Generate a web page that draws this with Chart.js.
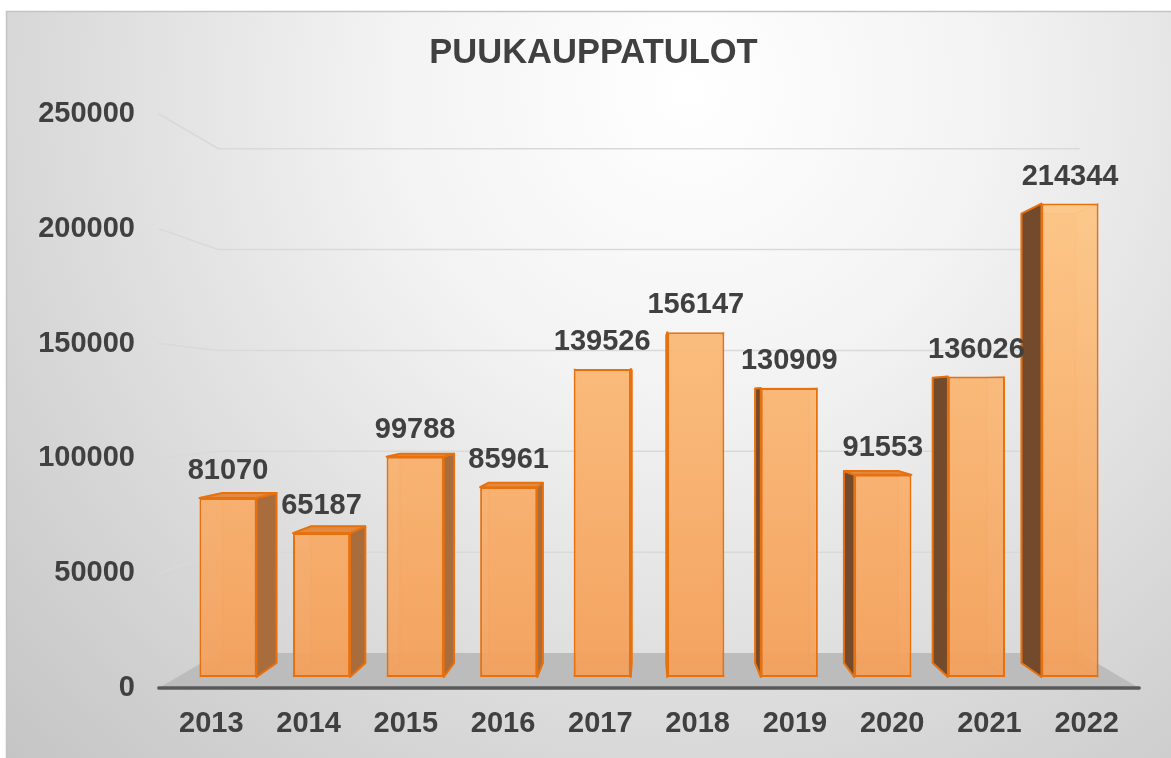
<!DOCTYPE html>
<html>
<head>
<meta charset="utf-8">
<script src="https://cdn.jsdelivr.net/npm/chart.js@4.4.1/dist/chart.umd.min.js"></script>
<style>
  html, body { margin: 0; padding: 0; background: #ffffff; overflow: hidden; }
  #wrap { width: 1171px; height: 758px; position: relative; }
</style>
</head>
<body>
<div id="wrap"><canvas id="chart"></canvas></div>
<script>
// ---- data ----
const chartTitle = 'PUUKAUPPATULOT';
const years = ['2013', '2014', '2015', '2016', '2017', '2018', '2019', '2020', '2021', '2022'];
const values = [81070, 65187, 99788, 85961, 139526, 156147, 130909, 91553, 136026, 214344];
const yTickValues = [0, 50000, 100000, 150000, 200000, 250000];

// ---- perspective / style settings ----
const FONT = '"Liberation Sans", Arial, sans-serif';
const TEXT = '#404040';
const F_BAR_FRONT = 0.038;   // depth of bar front faces (relative to front plane)
const F_BAR_BACK = 0.087;    // depth of bar back faces
const F_WALL = 0.1215;       // depth of back wall
const LABEL_Y_MIN = -5226, LABEL_Y_MAX = 256098;   // front-plane value axis range
const FLOOR_HALF = 5.04;                           // half width of floor in category slots

// derived ranges (front plane -> bar plane, shrunk toward chart centre)
const xHalf = 5 * (1 - F_BAR_FRONT);
const LABEL_X_MIN = 4.5 - xHalf, LABEL_X_MAX = 4.5 + xHalf;
const yc = (LABEL_Y_MIN + LABEL_Y_MAX) / 2, yh = (LABEL_Y_MAX - LABEL_Y_MIN) / 2;
const BAR_Y_MIN = yc - yh / (1 - F_BAR_FRONT), BAR_Y_MAX = yc + yh / (1 - F_BAR_FRONT);

function proj(p, f, c) { return [p[0] + (c[0] - p[0]) * f, p[1] + (c[1] - p[1]) * f]; }
function poly(ctx, pts) { ctx.beginPath(); ctx.moveTo(pts[0][0], pts[0][1]); for (let i = 1; i < pts.length; i++) ctx.lineTo(pts[i][0], pts[i][1]); ctx.closePath(); }

const scenePlugin = {
  id: 'scene',
  beforeDraw(chart) {
    const { ctx, width, height } = chart;
    ctx.save();
    ctx.fillStyle = '#ffffff';
    ctx.fillRect(0, 0, width, height);
    const g = ctx.createRadialGradient(690, 90, 0, 690, 90, 1000);
    g.addColorStop(0, '#ffffff');
    g.addColorStop(0.3, '#f3f3f3');
    g.addColorStop(0.7, '#d6d6d6');
    g.addColorStop(1, '#c2c2c2');
    ctx.fillStyle = g;
    ctx.fillRect(6, 11, width, height);
    ctx.strokeStyle = '#c4c4c4';
    ctx.lineWidth = 1.5;
    ctx.strokeRect(6.5, 11.5, width + 10, height + 10);
    ctx.restore();
  },
  beforeDatasetsDraw(chart) {
    const { ctx, chartArea: a, scales } = chart;
    const C = [(a.left + a.right) / 2, (a.top + a.bottom) / 2];
    const xL = scales.xL, yL = scales.yL;
    const xl = xL.getPixelForValue(4.5 - FLOOR_HALF), xr = xL.getPixelForValue(4.5 + FLOOR_HALF);
    ctx.save();
    ctx.lineJoin = 'round';
    // gridlines (side wall diagonal + back wall)
    ctx.strokeStyle = '#d9d9d9';
    ctx.lineWidth = 1.5;
    yTickValues.forEach(v => {
      if (v === 0) return;
      const py = yL.getPixelForValue(v);
      const f = [xl, py], b1 = proj(f, F_WALL, C), b2 = proj([xr, py], F_WALL, C);
      ctx.beginPath(); ctx.moveTo(f[0], f[1]); ctx.lineTo(b1[0], b1[1]); ctx.lineTo(b2[0], b2[1]); ctx.stroke();
    });
    // floor
    const p0 = yL.getPixelForValue(0);
    const fl = [xl, p0], fr = [xr, p0], bl = proj(fl, F_WALL, C), br = proj(fr, F_WALL, C);
    poly(ctx, [fl, fr, br, bl]);
    ctx.fillStyle = '#bcbcbc';
    ctx.fill();
    ctx.strokeStyle = '#595959';
    ctx.lineWidth = 3.5;
    ctx.lineCap = 'round';
    ctx.beginPath(); ctx.moveTo(fl[0], fl[1]); ctx.lineTo(fr[0], fr[1]); ctx.stroke();
    ctx.lineCap = 'butt';

    // 3D bar bodies
    const gk = (F_BAR_BACK - F_BAR_FRONT) / (1 - F_BAR_FRONT);
    const meta = chart.getDatasetMeta(0);
    meta.data.forEach(el => {
      const { x, y, base, width } = el.getProps(['x', 'y', 'base', 'width'], true);
      const L = x - width / 2, R = x + width / 2;
      const fTL = [L, y], fTR = [R, y], fBL = [L, base], fBR = [R, base];
      const bTL = proj(fTL, gk, C), bTR = proj(fTR, gk, C), bBL = proj(fBL, gk, C), bBR = proj(fBR, gk, C);
      // back face + hidden edges (seen through translucent front)
      poly(ctx, [bTL, bTR, bBR, bBL]);
      ctx.fillStyle = 'rgba(246,160,92,0.35)';
      ctx.fill();
      ctx.strokeStyle = 'rgba(236,120,30,0.45)';
      ctx.lineWidth = 1.5;
      ctx.stroke();
      [[fTL, bTL], [fTR, bTR], [fBL, bBL], [fBR, bBR]].forEach(([p, q]) => {
        ctx.beginPath(); ctx.moveTo(p[0], p[1]); ctx.lineTo(q[0], q[1]); ctx.stroke();
      });
      // visible side face
      let side, sideColor;
      if (x < C[0]) { side = [fTR, bTR, bBR, fBR]; sideColor = '#a96c3c'; }
      else { side = [fTL, bTL, bBL, fBL]; sideColor = '#734a2c'; }
      poly(ctx, side);
      ctx.fillStyle = sideColor;
      ctx.fill();
      ctx.strokeStyle = '#e8710f';
      ctx.lineWidth = 2;
      ctx.stroke();
      // visible top face
      if (y > C[1]) {
        poly(ctx, [fTL, fTR, bTR, bTL]);
        ctx.fillStyle = '#e28a42';
        ctx.fill();
        ctx.strokeStyle = '#e8710f';
        ctx.lineWidth = 2;
        ctx.stroke();
      }
    });
    ctx.restore();
  },
  afterDatasetsDraw(chart) {
    const { ctx } = chart;
    const meta = chart.getDatasetMeta(0);
    ctx.save();
    ctx.font = 'bold 29px ' + FONT;
    ctx.fillStyle = TEXT;
    ctx.textAlign = 'center';
    ctx.textBaseline = 'middle';
    meta.data.forEach((el, i) => {
      const { x, y } = el.getProps(['x', 'y'], true);
      ctx.fillText(String(values[i]), x, y - 27);
    });
    ctx.restore();
  }
};

function zeroPad(s) { s.paddingTop = 0; s.paddingBottom = 0; s.paddingLeft = 0; s.paddingRight = 0; }

const ctx = document.getElementById('chart').getContext('2d');
new Chart(ctx, {
  type: 'bar',
  data: {
    labels: years,
    datasets: [{
      label: chartTitle,
      data: values,
      xAxisID: 'x',
      yAxisID: 'y',
      backgroundColor: (c) => {
        const a = c.chart.chartArea;
        if (!a) return 'rgba(246,162,94,0.9)';
        const g = c.chart.ctx.createLinearGradient(0, a.top, 0, a.bottom);
        g.addColorStop(0, 'rgba(255,205,140,0.92)');
        g.addColorStop(1, 'rgba(244,158,88,0.92)');
        return g;
      },
      borderColor: '#e8710f',
      borderWidth: 2,
      borderSkipped: false,
      barPercentage: 0.61,
      categoryPercentage: 1.0
    }]
  },
  options: {
    responsive: true,
    maintainAspectRatio: false,
    animation: false,
    layout: { padding: { left: 16, right: 0, top: 0, bottom: 0 } },
    plugins: {
      legend: { display: false },
      tooltip: { enabled: false },
      title: {
        display: true,
        text: chartTitle,
        color: TEXT,
        font: { family: FONT, size: 34.5, weight: 'bold', lineHeight: 1.2 },
        padding: { top: 32.5, bottom: 26.1 }
      }
    },
    scales: {
      x: { type: 'category', display: false },
      y: { type: 'linear', display: false, min: BAR_Y_MIN, max: BAR_Y_MAX },
      xL: {
        type: 'linear', position: 'bottom', offset: false, bounds: 'data',
        min: LABEL_X_MIN, max: LABEL_X_MAX,
        afterBuildTicks: (s) => { s.ticks = years.map((_, i) => ({ value: i })); },
        ticks: {
          autoSkip: false, maxRotation: 0, minRotation: 0, padding: 6.6,
          color: TEXT, font: { family: FONT, size: 29, weight: 'bold' },
          callback: (v) => years[v]
        },
        grid: { display: false, drawTicks: false, offset: false },
        border: { display: false },
        afterFit: (s) => { s.height = 58; zeroPad(s); }
      },
      yL: {
        type: 'linear', position: 'left', offset: false, beginAtZero: false,
        min: LABEL_Y_MIN, max: LABEL_Y_MAX,
        afterBuildTicks: (s) => { s.ticks = yTickValues.map(v => ({ value: v })); },
        ticks: {
          padding: 46.2, color: TEXT, font: { family: FONT, size: 29, weight: 'bold' },
          callback: (v) => String(v)
        },
        grid: { display: false, drawTicks: false },
        border: { display: false },
        afterFit: (s) => { s.width = 165.2; zeroPad(s); }
      },
      yR: {
        type: 'linear', position: 'right',
        ticks: { display: false },
        grid: { display: false, drawTicks: false },
        border: { display: false },
        afterFit: (s) => { s.width = 54.2; zeroPad(s); }
      }
    }
  },
  plugins: [scenePlugin]
});
</script>
</body>
</html>
